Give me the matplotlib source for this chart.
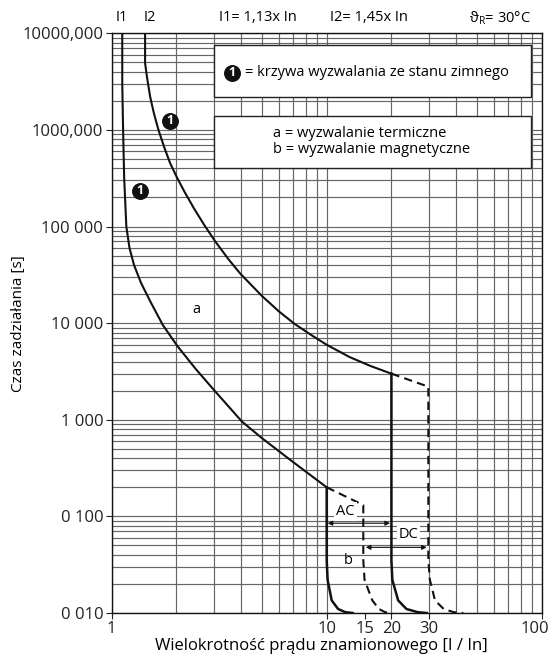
import matplotlib
matplotlib.use("Agg")
import matplotlib.pyplot as plt
from matplotlib.patches import Rectangle
from matplotlib.ticker import NullLocator
from matplotlib.transforms import ScaledTranslation

# Fonty i rozmiar tekstu
plt.rcParams['font.family'] = ['Open Sans', 'DejaVu Sans']
plt.rcParams['font.size'] = 10.5
plt.rcParams['mathtext.fontset'] = 'custom'
plt.rcParams['mathtext.rm'] = 'Open Sans'

# Krzywa termiczna ze stanu zimnego - I1 (lewa)
i1_x = [1.12, 1.12, 1.13, 1.143, 1.17, 1.21, 1.27, 1.37, 1.52, 1.73, 2.02, 2.45, 2.98, 4.04, 5.0, 7.0, 10.0]
i1_y = [10000, 3000, 1000, 320, 100, 60, 40, 26, 16.4, 9.55, 5.8, 3.39, 2.05, 0.955, 0.645, 0.363, 0.2]

# Krzywa termiczna - I2 (prawa)
i2_x = [1.43, 1.43, 1.46, 1.51, 1.57, 1.65, 1.76, 1.87, 2.02, 2.19, 2.41, 2.7, 3.04, 3.5, 3.97, 5.0, 6.0, 7.1, 8.5, 10.0, 12.8, 16.0, 20.0]
i2_y = [10000, 4900, 3500, 2200, 1500, 1000, 650, 452, 316, 225, 155, 103, 69.5, 45.6, 32.4, 19.1, 13.2, 9.8, 7.5, 5.97, 4.45, 3.6, 3.0]

# Wyzwalanie magnetyczne (AC: 10 / 15, DC: 20 / 30)
mag10_x = [10.0, 10.0, 10.1, 10.55, 11.3, 12.2, 13.2]
mag10_y = [0.2, 0.035, 0.022, 0.0135, 0.011, 0.0102, 0.01]
mag15_x = [10.0, 14.8, 14.8, 15.0, 16.3, 17.5, 18.7, 19.8]
mag15_y = [0.2, 0.131, 0.035, 0.022, 0.0135, 0.011, 0.0102, 0.01]
mag20_x = [20.0, 20.0, 20.2, 21.5, 23.5, 26.5, 29.2]
mag20_y = [3.0, 0.035, 0.022, 0.0135, 0.011, 0.0102, 0.01]
mag30_x = [20.0, 29.7, 29.7, 30.2, 31.9, 35.0, 39.0, 43.2]
mag30_y = [3.0, 2.2, 0.035, 0.022, 0.0135, 0.011, 0.0102, 0.01]

# Opisy osi
x_ticks = [1, 10, 15, 20, 30, 100]
x_tick_labels = ["1", "10", "15", "20", "30", "100"]
y_ticks = [10000, 1000, 100, 10, 1, 0.1, 0.01]
y_tick_labels = ["10000,000", "1000,000", "100 000", "10 000", "1 000", "0 100", "0 010"]

fig = plt.figure(figsize=(5.48, 6.59), dpi=100)
ax = fig.add_axes([0.2038, 0.0698, 0.7847, 0.8797])
ax.set_xscale('log')
ax.set_yscale('log')

# Siatka logarytmiczna
grid_x = [k * 10 ** n for n in range(2) for k in range(1, 10)] + [100]
grid_y = [k * 10.0 ** n for n in range(-2, 4) for k in range(1, 10)] + [10000]
ax.vlines(grid_x, 0.01, 10000, colors='#666666', lw=0.85, zorder=1)
ax.hlines(grid_y, 1, 100, colors='#666666', lw=0.85, zorder=1)

# Ramki z legenda
ax.add_patch(Rectangle((3, 2210), 89.5 - 3, 7570 - 2210, fc='white', ec='#222222', lw=1, zorder=2))
ax.add_patch(Rectangle((3, 407), 89.5 - 3, 1395 - 407, fc='white', ec='#222222', lw=1, zorder=2))

# Krzywe
ax.plot(i1_x, i1_y, color='#111111', lw=1.5, zorder=4)
ax.plot(i2_x, i2_y, color='#111111', lw=1.5, zorder=4)
ax.plot(mag10_x, mag10_y, color='#111111', lw=1.8, zorder=4)
ax.plot(mag20_x, mag20_y, color='#111111', lw=1.8, zorder=4)
ax.plot(mag15_x, mag15_y, color='#111111', lw=1.5, ls=(0, (4, 2.5)), zorder=4)
ax.plot(mag30_x, mag30_y, color='#111111', lw=1.5, ls=(0, (4, 2.5)), zorder=4)

# Znaczniki 1
mark_x = [1.87, 1.354, 3.64]
mark_y = [1245, 235, 3910]
ax.scatter(mark_x, mark_y, s=125, c='#111111', zorder=5)
for mx, my in zip(mark_x, mark_y):
    ax.text(mx, my, "1", color='white', fontsize=9, fontweight='bold', ha='center', va='center', zorder=6)

ax.text(4.17, 3910, "= krzywa wyzwalania ze stanu zimnego", ha='left', va='center', zorder=6)
ax.text(16.2, 753, "a = wyzwalanie termiczne\nb = wyzwalanie magnetyczne", ha='center', va='center',
        multialignment='left', linespacing=1.1, zorder=6)

# Strzalki AC / DC
arrow = dict(arrowstyle='<|-|>', color='#111111', lw=0.8, mutation_scale=7, shrinkA=0, shrinkB=0)
ax.annotate('', xy=(19.7, 0.085), xytext=(10.1, 0.085), arrowprops=arrow, zorder=5)
ax.annotate('', xy=(29.2, 0.0478), xytext=(15.2, 0.0478), arrowprops=arrow, zorder=5)
ax.text(12.2, 0.112, "AC", ha='center', va='center', zorder=6,
        bbox=dict(fc='white', ec='none', pad=1.5))
ax.text(24, 0.0656, "DC", ha='center', va='center', zorder=6,
        bbox=dict(fc='white', ec='none', pad=1.5))
ax.text(12.6, 0.0353, "b", ha='center', va='center', zorder=6)
ax.text(2.48, 14, "a", ha='center', va='center', zorder=6)

ax.set_xlim(1, 100)
ax.set_ylim(0.01, 10000)
ax.set_xticks(x_ticks)
ax.set_xticklabels(x_tick_labels, fontsize=12)
ax.set_yticks(y_ticks)
ax.set_yticklabels(y_tick_labels, fontsize=12)
ax.xaxis.set_minor_locator(NullLocator())
ax.yaxis.set_minor_locator(NullLocator())
ax.tick_params(direction='out', length=4, width=0.8, pad=2, colors='#222222')
for s in ax.spines.values():
    s.set_color('#111111')
    s.set_linewidth(1.0)

# ostatnia etykieta "100" lekko w lewo, zeby sie miescila
last = ax.get_xticklabels()[-1]
last.set_transform(last.get_transform() + ScaledTranslation(-0.07, 0, fig.dpi_scale_trans))

ax.set_xlabel("Wielokrotność prądu znamionowego [I / In]", fontsize=12)
ax.set_ylabel("Czas zadziałania [s]", fontsize=11)
ax.xaxis.set_label_coords(0.487, -0.043)
ax.yaxis.set_label_coords(-0.199, 0.5)

# Teksty nad wykresem
fig.text(0.2217, 0.9727, "I1", ha='center', va='center')
fig.text(0.2737, 0.9727, "I2", ha='center', va='center')
fig.text(0.47, 0.9727, "I1= 1,13x In", ha='center', va='center')
fig.text(0.674, 0.9727, "I2= 1,45x In", ha='center', va='center')
fig.text(0.912, 0.9727, r"ϑ$_\mathrm{R}$= 30°C", ha='center', va='center')

fig.savefig("out.png", dpi=100)
